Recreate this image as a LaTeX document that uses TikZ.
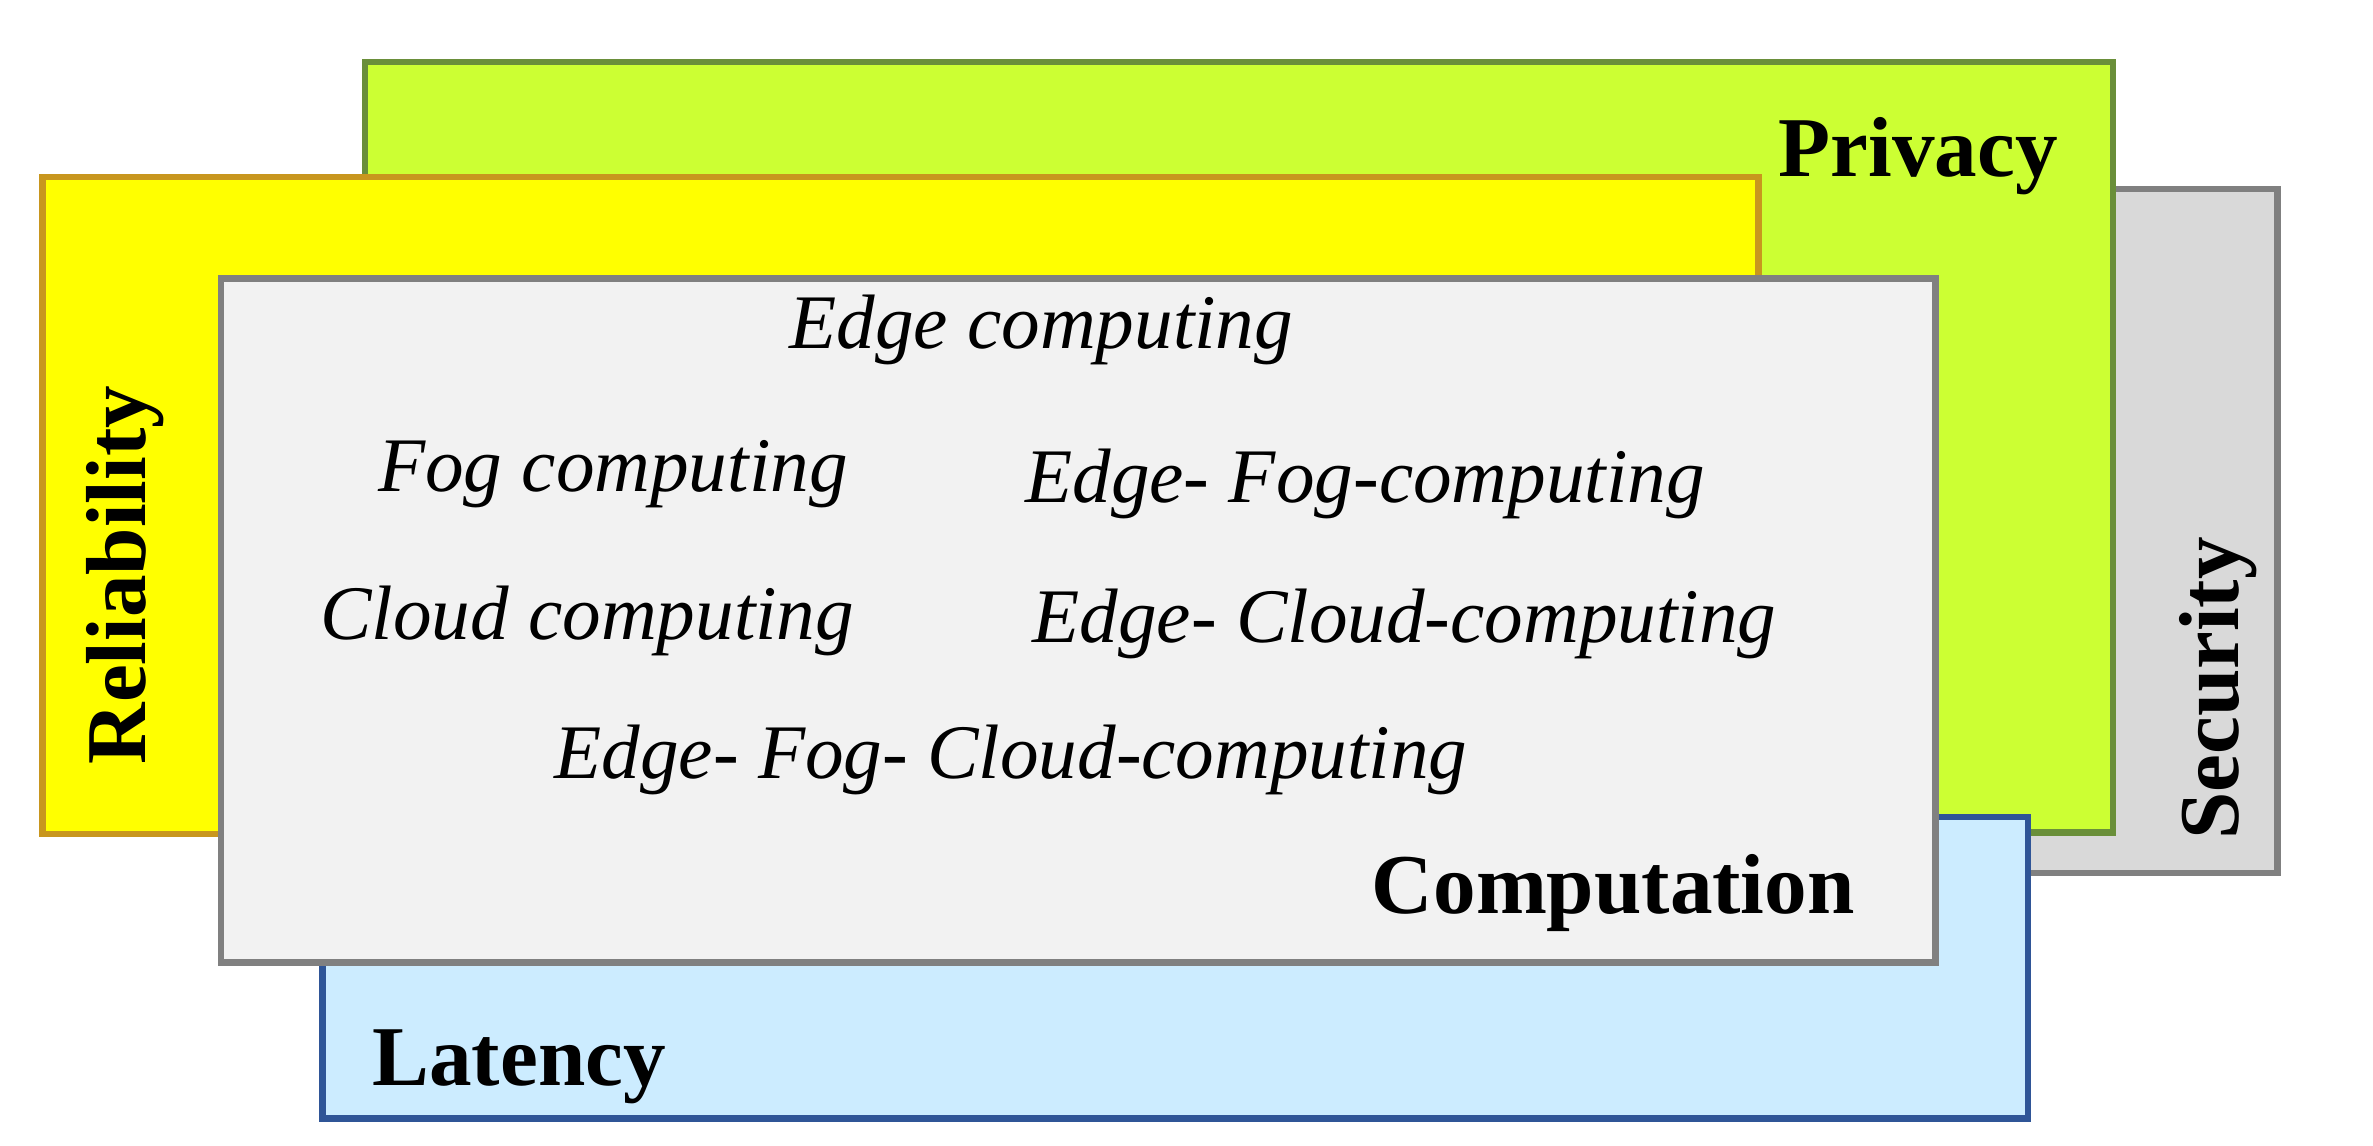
\documentclass[tikz,border=0pt]{standalone}
\usepackage{fontspec}
\setmainfont{Liberation Serif}
\begin{document}
\begin{tikzpicture}[x=0.01cm,y=-0.01cm,
  lay/.style={line width=1.2pt},
  lbl/.style={font=\fontsize{16}{18}\selectfont\bfseries},
  itl/.style={font=\fontsize{14.5}{17}\selectfont\itshape}]
\useasboundingbox (0,0) rectangle (1568,757);
\definecolor{grn}{HTML}{CCFF33}\definecolor{grnb}{HTML}{6A8F3A}
\definecolor{yel}{HTML}{FFFF00}\definecolor{yelb}{HTML}{C8961E}
\definecolor{blu}{HTML}{CCECFF}\definecolor{blub}{HTML}{2F5597}
\definecolor{lgr}{HTML}{F2F2F2}\definecolor{sec}{HTML}{D9D9D9}
\draw[lay,fill=sec,draw=gray] (1200,125) rectangle (1505,577);
\draw[lay,fill=grn,draw=grnb] (241,41) rectangle (1396,550);
\draw[lay,fill=blu,draw=blub] (213,540) rectangle (1340,739);
\draw[lay,fill=yel,draw=yelb] (28,117) rectangle (1162,551);
\draw[lay,fill=lgr,draw=gray] (146,184) rectangle (1279,636);
\node[lbl,anchor=east] (priv) at (1372,103) {Privacy};
\node[lbl,rotate=90] (rel) at (83,380) {Reliability};
\node[lbl,rotate=90] (secu) at (1466,455) {Security};
\node[lbl] (lat) at (343,705) {Latency};
\node[lbl] (comp) at (1066,590) {Computation};
\node[itl] (e) at (688,218) {Edge computing};
\node[itl] (f) at (405,313) {Fog computing};
\node[itl] (ef) at (902,320) {Edge- Fog-computing};
\node[itl] (c) at (388,410) {Cloud computing};
\node[itl] (ec) at (928,412) {Edge- Cloud-computing};
\node[itl] (efc) at (668,502) {Edge- Fog- Cloud-computing};
\end{tikzpicture}
\end{document}
